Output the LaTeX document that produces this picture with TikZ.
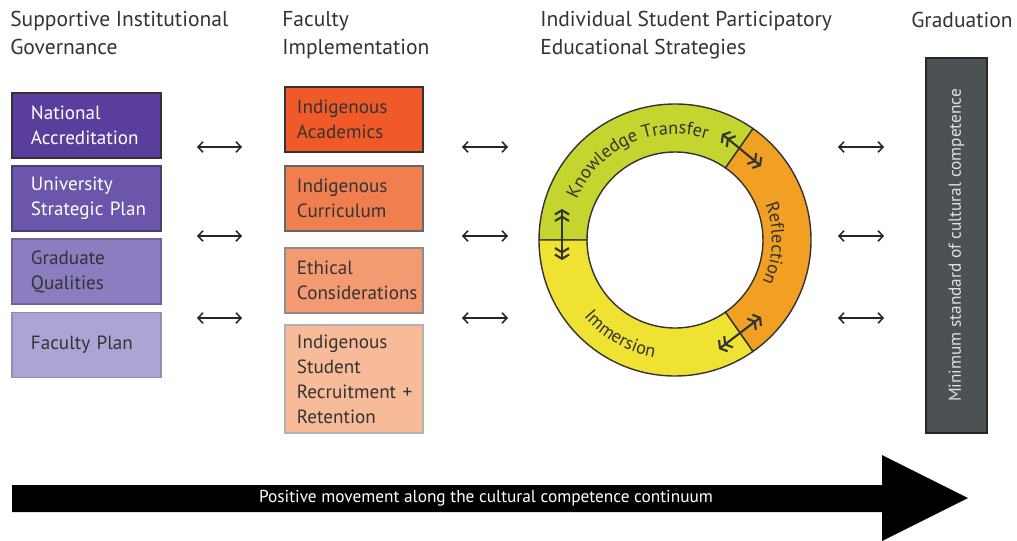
\documentclass[tikz,border=0pt]{standalone}
\usepackage{fontspec}
\setmainfont{PT Sans}
\usetikzlibrary{arrows.meta,decorations.text}

\definecolor{gov1}{HTML}{5A3E9E}
\definecolor{gov2}{HTML}{6B56AC}
\definecolor{gov3}{HTML}{8B7DBF}
\definecolor{gov4}{HTML}{ADA3D4}
\definecolor{fac1}{HTML}{EF5A28}
\definecolor{fac2}{HTML}{F07F50}
\definecolor{fac3}{HTML}{F39A72}
\definecolor{fac4}{HTML}{F7BB9A}
\definecolor{ktgreen}{HTML}{C5D530}
\definecolor{refl}{HTML}{F2A024}
\definecolor{imm}{HTML}{EFE233}
\definecolor{gradgray}{HTML}{4C5254}
\definecolor{ink}{HTML}{333333}

\newcommand\headfont{\fontsize{15.3}{20}\selectfont}
\newcommand\boxfont{\fontsize{13.6}{17.8}\selectfont}
\newcommand\ringfont{\fontsize{13}{15}\selectfont}
\newcommand\smallfont{\fontsize{12.3}{14}\selectfont}

\tikzset{
  head/.style={anchor=north west, inner sep=0pt, align=left, text=ink, font=\headfont},
  box/.style={rectangle, draw, line width=0.8pt, align=left, inner ysep=0pt, text=ink, font=\boxfont},
  govbox/.style={box, text width=2.775cm, inner xsep=0.475cm, minimum height=1.625cm},
  facbox/.style={box, text width=2.85cm, inner xsep=0.3cm, minimum height=1.625cm},
  link/.style={line width=1.1pt, draw=black!85, arrows={Straight Barb[length=3.5pt,width=7.5pt]-Straight Barb[length=3.5pt,width=7.5pt]}},
  ringline/.style={line width=1pt, draw=black!80},
  cyclearrow/.style={line width=1.5pt, draw=black!80, arrows={Straight Barb[length=3pt,width=10pt]Straight Barb[length=3pt,width=10pt]-Straight Barb[length=3pt,width=10pt]Straight Barb[length=3pt,width=10pt]}},
  ringtext/.style={decorate, decoration={text along path, text align=center, text color=ink}}
}

\begin{document}
\begin{tikzpicture}[x=0.025cm, y=0.025cm]
  \useasboundingbox (0,0) rectangle (1017,-540);

  \node[head] (hgov) at (10,-11) {Supportive Institutional\\Governance};
  \node[head] (hfac) at (282,-11) {Faculty\\Implementation};
  \node[head] (hstu) at (540,-11) {Individual Student Participatory\\Educational Strategies};
  \node[head] (hgrad) at (911,-12) {Graduation};

  \node[govbox, fill=gov1, draw=black!80, text=white] (gov1) at (86.5,-125.5) {National\\Accreditation};
  \node[govbox, fill=gov2, draw=gov2!70!black, text=white] (gov2) at (86.5,-198.5) {University\\Strategic~Plan};
  \node[govbox, fill=gov3, draw=gov3!80!black] (gov3) at (86.5,-271.5) {Graduate\\Qualities};
  \node[govbox, fill=gov4, draw=gov4!85!black] (gov4) at (86.5,-345) {Faculty~Plan};

  \node[facbox, fill=fac1, draw=black!80] (fac1) at (354,-119.5) {Indigenous\\Academics};
  \node[facbox, fill=fac2, draw=black!60] (fac2) at (354,-198.5) {Indigenous\\Curriculum};
  \node[facbox, fill=fac3, draw=black!45] (fac3) at (354,-280.5) {Ethical\\Considerations};
  \node[facbox, fill=fac4, draw=black!30, minimum height=2.7cm] (fac4) at (354,-379) {Indigenous\\Student\\Recruitment~+\\Retention};

  \node[draw=black!85, line width=1pt, fill=gradgray, rotate=90, minimum width=9.375cm, minimum height=1.525cm, text=black!12, font=\smallfont] (grad) at (956.5,-245.5) {Minimum standard of cultural competence};

  % ring of strategies
  \coordinate (ring) at (675,-240);
  \filldraw[ringline, fill=ktgreen] ([shift={(55:136)}]ring) arc[start angle=55, end angle=180, radius=136]
    -- ([shift={(180:88)}]ring) arc[start angle=180, end angle=55, radius=88] -- cycle;
  \filldraw[ringline, fill=imm] ([shift={(180:136)}]ring) arc[start angle=180, end angle=305, radius=136]
    -- ([shift={(305:88)}]ring) arc[start angle=305, end angle=180, radius=88] -- cycle;
  \filldraw[ringline, fill=refl] ([shift={(-55:136)}]ring) arc[start angle=-55, end angle=55, radius=136]
    -- ([shift={(55:88)}]ring) arc[start angle=55, end angle=-55, radius=88] -- cycle;

  \path[ringtext, decoration={text={|\ringfont|Knowledge Transfer}}]
    ([shift={(162:106)}]ring) arc[start angle=162, end angle=68, radius=106];
  \path[ringtext, decoration={text={|\ringfont|Reflection}}]
    ([shift={(37:97)}]ring) arc[start angle=37, end angle=-41, radius=97];
  \path[ringtext, decoration={text={|\ringfont|Immersion}}]
    ([shift={(198:119)}]ring) arc[start angle=198, end angle=282, radius=119];

  \coordinate (c1a) at (562,-209);
  \coordinate (c1b) at (562,-260);
  \coordinate (c2a) at (722,-134);
  \coordinate (c2b) at (761,-166);
  \coordinate (c3a) at (719,-349);
  \coordinate (c3b) at (761,-317);
  \draw[cyclearrow] (c1a) -- (c1b);
  \draw[cyclearrow] (c2a) -- (c2b);
  \draw[cyclearrow] (c3a) -- (c3b);

  % arrows between columns
  \coordinate (a1w) at (197,-147);  \coordinate (a1e) at (242,-147);
  \coordinate (a2w) at (197,-236);  \coordinate (a2e) at (242,-236);
  \coordinate (a3w) at (197,-318);  \coordinate (a3e) at (242,-318);
  \coordinate (b1w) at (462,-147);  \coordinate (b1e) at (508,-147);
  \coordinate (b2w) at (462,-236);  \coordinate (b2e) at (508,-236);
  \coordinate (b3w) at (462,-318);  \coordinate (b3e) at (508,-318);
  \coordinate (d1w) at (838,-147);  \coordinate (d1e) at (884,-147);
  \coordinate (d2w) at (838,-236);  \coordinate (d2e) at (884,-236);
  \coordinate (d3w) at (838,-318);  \coordinate (d3e) at (884,-318);
  \draw[link] (a1w) -- (a1e);
  \draw[link] (a2w) -- (a2e);
  \draw[link] (a3w) -- (a3e);
  \draw[link] (b1w) -- (b1e);
  \draw[link] (b2w) -- (b2e);
  \draw[link] (b3w) -- (b3e);
  \draw[link] (d1w) -- (d1e);
  \draw[link] (d2w) -- (d2e);
  \draw[link] (d3w) -- (d3e);

  % continuum arrow
  \fill[black] (12,-485) -- (882,-485) -- (882,-455) -- (968,-498) -- (882,-541)
    -- (882,-512) -- (12,-512) -- cycle;
  \node[text=white, font=\smallfont, inner sep=0pt] (move) at (486,-498.5)
    {Positive movement along the cultural competence continuum};
\end{tikzpicture}
\end{document}
